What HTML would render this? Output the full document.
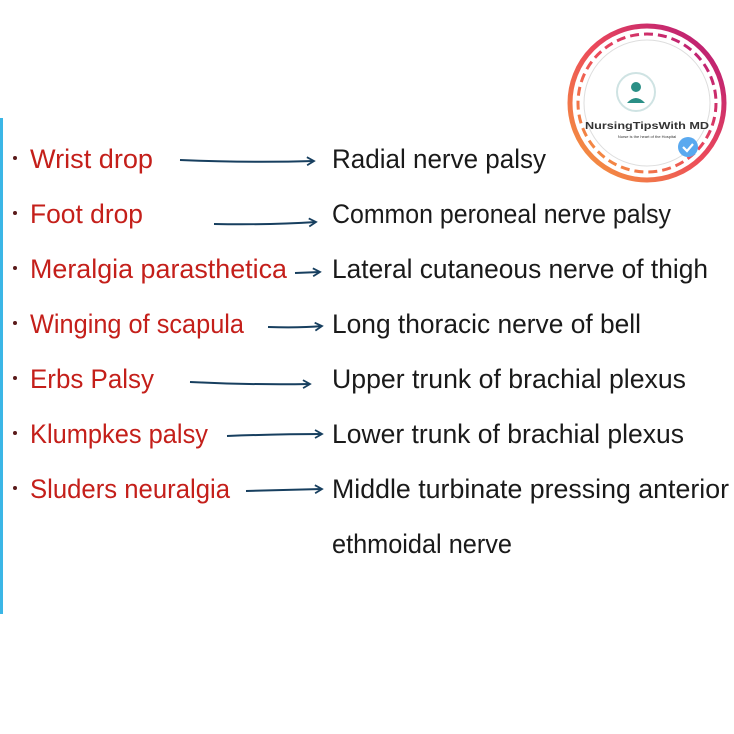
<!DOCTYPE html>
<html><head><meta charset="utf-8"><style>
html,body{margin:0;padding:0;background:#fff;width:734px;height:734px;overflow:hidden}
svg{display:block}
.l{fill:#c41f1a;font-family:"Liberation Sans",sans-serif;font-size:27px}
.r{fill:#1a1a1a;font-family:"Liberation Sans",sans-serif;font-size:27px}
</style></head><body>
<svg width="734" height="734" viewBox="0 0 734 734">
<defs>
<linearGradient id="g" x1="0" y1="1" x2="1" y2="0">
<stop offset="0" stop-color="#f6a03a"/><stop offset="0.5" stop-color="#ec4a5a"/><stop offset="1" stop-color="#b0147a"/>
</linearGradient>
<marker id="a" markerWidth="10" markerHeight="10" refX="8" refY="5" orient="auto" markerUnits="userSpaceOnUse">
<path d="M1,1 L8,5 L1,9" fill="none" stroke="#173f5f" stroke-width="1.8"/>
</marker>
</defs>
<rect x="0" y="118" width="3" height="496" fill="#3bb6e6"/>
<!-- logo -->
<circle cx="647" cy="103" r="77" fill="#fff" stroke="url(#g)" stroke-width="5"/>
<circle cx="647" cy="103" r="69" fill="none" stroke="url(#g)" stroke-width="3" stroke-dasharray="9 5"/>
<circle cx="647" cy="103" r="63" fill="none" stroke="#ddd" stroke-width="1"/>
<circle cx="636" cy="92" r="19" fill="#fff" stroke="#cfe3e3" stroke-width="2"/>
<circle cx="636" cy="87" r="5" fill="#2a8f86"/>
<path d="M627,103 q9,-10 18,0 z" fill="#2a8f86"/>
<text x="647" y="129" text-anchor="middle" font-family="Liberation Sans,sans-serif" font-size="10.5" font-weight="bold" fill="#333" textLength="124" lengthAdjust="spacingAndGlyphs">NursingTipsWith MD</text>
<text x="647" y="138" text-anchor="middle" font-family="Liberation Sans,sans-serif" font-size="4" fill="#333">Nurse is the heart of the Hospital</text>
<circle cx="688" cy="147" r="10" fill="#5aa9ef"/>
<path d="M683,147 l4,4 l6,-7" fill="none" stroke="#fff" stroke-width="2.2"/>
<!-- bullets -->
<g fill="#5a1a1a">
<circle cx="15" cy="158" r="2"/><circle cx="15" cy="213" r="2"/><circle cx="15" cy="268" r="2"/><circle cx="15" cy="323" r="2"/><circle cx="15" cy="378" r="2"/><circle cx="15" cy="433" r="2"/><circle cx="15" cy="488" r="2"/>
</g>
<g class="l">
<text x="30" y="168" textLength="123" lengthAdjust="spacingAndGlyphs">Wrist drop</text>
<text x="30" y="223" textLength="113" lengthAdjust="spacingAndGlyphs">Foot drop</text>
<text x="30" y="278" textLength="257" lengthAdjust="spacingAndGlyphs">Meralgia parasthetica</text>
<text x="30" y="333" textLength="214" lengthAdjust="spacingAndGlyphs">Winging of scapula</text>
<text x="30" y="388" textLength="124" lengthAdjust="spacingAndGlyphs">Erbs Palsy</text>
<text x="30" y="443" textLength="178" lengthAdjust="spacingAndGlyphs">Klumpkes palsy</text>
<text x="30" y="498" textLength="200" lengthAdjust="spacingAndGlyphs">Sluders neuralgia</text>
</g>
<g class="r">
<text x="332" y="168" textLength="214" lengthAdjust="spacingAndGlyphs">Radial nerve palsy</text>
<text x="332" y="223" textLength="339" lengthAdjust="spacingAndGlyphs">Common peroneal nerve palsy</text>
<text x="332" y="278" textLength="376" lengthAdjust="spacingAndGlyphs">Lateral cutaneous nerve of thigh</text>
<text x="332" y="333" textLength="309" lengthAdjust="spacingAndGlyphs">Long thoracic nerve of bell</text>
<text x="332" y="388" textLength="354" lengthAdjust="spacingAndGlyphs">Upper trunk of brachial plexus</text>
<text x="332" y="443" textLength="352" lengthAdjust="spacingAndGlyphs">Lower trunk of brachial plexus</text>
<text x="332" y="498" textLength="397" lengthAdjust="spacingAndGlyphs">Middle turbinate pressing anterior</text>
<text x="332" y="553" textLength="180" lengthAdjust="spacingAndGlyphs">ethmoidal nerve</text>
</g>
<g stroke="#173f5f" stroke-width="2" fill="none" marker-end="url(#a)">
<path d="M180,160 Q250,163 314,161"/>
<path d="M214,224 Q270,225 316,222"/>
<path d="M295,273 L320,272"/>
<path d="M268,327 Q300,328 322,326"/>
<path d="M190,382 Q250,385 310,384"/>
<path d="M227,436 Q280,434 322,434"/>
<path d="M246,491 Q290,490 322,489"/>
</g>
</svg>
</body></html>
